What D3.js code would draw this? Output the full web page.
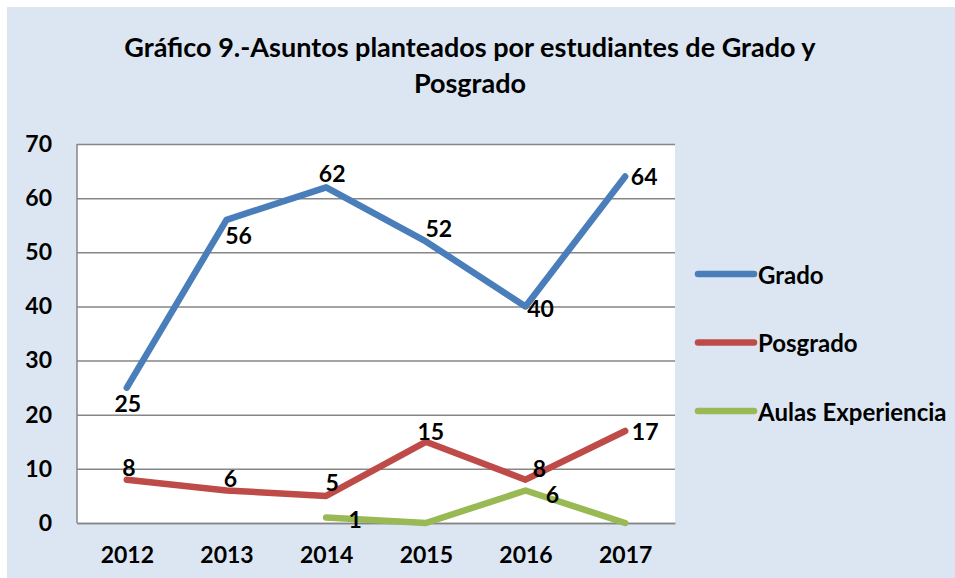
<!DOCTYPE html>
<html>
<head>
<meta charset="utf-8">
<script src="https://cdn.jsdelivr.net/npm/d3@7"></script>
<style>
  html, body { margin: 0; padding: 0; background: #fff; }
  svg { display: block; font-family: Lato, "Open Sans", sans-serif; font-weight: 700; }
</style>
</head>
<body>
<svg id="chart" width="955" height="578"></svg>
<script>
// Data.
const years = ['2012', '2013', '2014', '2015', '2016', '2017'];
const grado = [25, 56, 62, 52, 40, 64];
const posgrado = [8, 6, 5, 15, 8, 17];
const aulas = [null, null, 1, 0, 6, 0];
const yTicks = [0, 10, 20, 30, 40, 50, 60, 70];
const seriesNames = ['Grado', 'Posgrado', 'Aulas Experiencia'];
const titleLines = ['Gráfico 9.-Asuntos planteados por estudiantes de Grado y', 'Posgrado'];

// Where each data label sits relative to its point (layout only).
const labelOffsets = [
  [[1, 15], [12, 15], [6, -14], [13, -13], [15, 2], [19, 0]],
  [[2, -13], [4, -13], [6, -14], [5, -11], [14, -12], [20, 0]],
  [null, null, [29, 1], null, [27, 3], null]
];
const colors = ['#4a7ebb', '#be4b48', '#98b954'];
const fontSize = 23;

const svg = d3.select('#chart');
const margin = { left: 77, right: 675, top: 144, bottom: 523 };

svg.append('rect')
  .attr('x', 7).attr('y', 7)
  .attr('width', 955 - 7).attr('height', 578 - 7)
  .attr('fill', '#dce6f2');

// Title
svg.append('text')
  .attr('text-anchor', 'middle')
  .attr('font-size', 27)
  .attr('fill', '#000')
  .selectAll('tspan')
  .data(titleLines)
  .join('tspan')
  .attr('x', 470)
  .attr('y', (d, i) => 57 + i * 36)
  .text((d) => d);

const x = d3.scalePoint().domain(years).range([margin.left, margin.right]).padding(0.5);
const y = d3.scaleLinear().domain([0, 70]).range([margin.bottom, margin.top]);

svg.append('rect')
  .attr('x', margin.left).attr('y', margin.top)
  .attr('width', margin.right - margin.left)
  .attr('height', margin.bottom - margin.top)
  .attr('fill', '#fff');

// Gridlines + y labels
const yAxis = svg.append('g')
  .attr('transform', `translate(${margin.left},0)`)
  .call(d3.axisLeft(y).tickValues(yTicks).tickSize(-(margin.right - margin.left)).tickPadding(25));
yAxis.select('.domain').remove();
yAxis.selectAll('.tick line').attr('stroke', '#868686').attr('stroke-width', 1.5);
yAxis.selectAll('.tick text')
  .attr('font-size', fontSize).attr('font-family', 'Lato, sans-serif').attr('font-weight', 700)
  .attr('fill', '#000');

// Left axis line
svg.append('line')
  .attr('x1', margin.left).attr('x2', margin.left)
  .attr('y1', margin.top).attr('y2', margin.bottom)
  .attr('stroke', '#868686').attr('stroke-width', 1.5);

const xAxis = svg.append('g')
  .attr('transform', `translate(0,${margin.bottom})`)
  .call(d3.axisBottom(x).tickSize(0).tickPadding(24));
xAxis.select('.domain').attr('stroke', '#868686').attr('stroke-width', 1.5);
xAxis.selectAll('.tick text')
  .attr('font-size', fontSize).attr('font-family', 'Lato, sans-serif').attr('font-weight', 700)
  .attr('fill', '#000');

const allSeries = [grado, posgrado, aulas];
const line = d3.line()
  .defined((d) => d != null)
  .x((d, i) => x(years[i]))
  .y((d) => y(d));

allSeries.forEach((vals, s) => {
  svg.append('path')
    .datum(vals)
    .attr('d', line)
    .attr('fill', 'none')
    .attr('stroke', colors[s])
    .attr('stroke-width', 6.5)
    .attr('stroke-linecap', 'round')
    .attr('stroke-linejoin', 'round');
});

allSeries.forEach((vals, s) => {
  svg.append('g')
    .selectAll('text')
    .data(vals.map((v, i) => ({ v, i })).filter((d) => d.v != null && labelOffsets[s][d.i]))
    .join('text')
    .attr('x', (d) => x(years[d.i]) + labelOffsets[s][d.i][0])
    .attr('y', (d) => y(d.v) + labelOffsets[s][d.i][1])
    .attr('text-anchor', 'middle')
    .attr('dominant-baseline', 'central')
    .attr('font-size', fontSize)
    .attr('fill', '#000')
    .text((d) => d.v);
});

// Legend
const legend = svg.append('g')
  .selectAll('g')
  .data(seriesNames)
  .join('g')
  .attr('transform', (d, i) => `translate(698,${274 + i * 68.5})`);
legend.append('line')
  .attr('x1', 0).attr('x2', 56)
  .attr('stroke', (d, i) => colors[i])
  .attr('stroke-width', 6.5)
  .attr('stroke-linecap', 'round');
legend.append('text')
  .attr('x', 60)
  .attr('dominant-baseline', 'central')
  .attr('font-size', 24)
  .attr('fill', '#000')
  .text((d) => d);
</script>
</body>
</html>
